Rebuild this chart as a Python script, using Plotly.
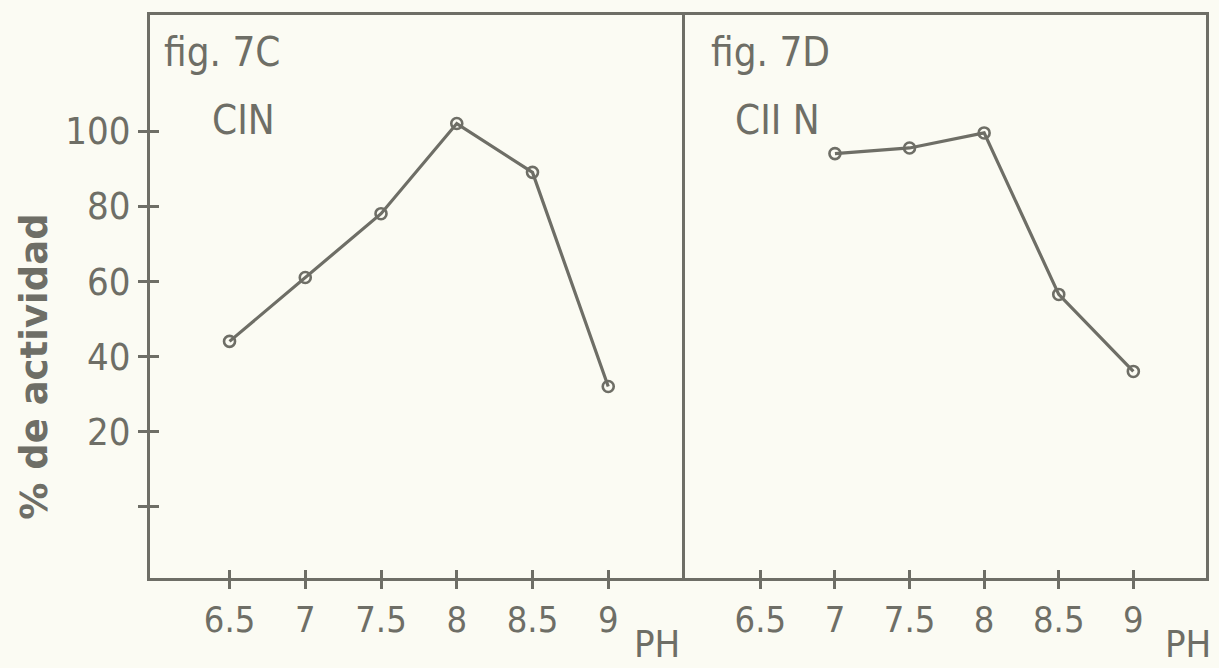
import plotly.graph_objects as go

# Data
ph_c = [6.5, 7, 7.5, 8, 8.5, 9]
act_c = [44, 61, 78, 102, 89, 32]
ph_d = [7, 7.5, 8, 8.5, 9]
act_d = [94, 95.5, 99.5, 56.5, 36]

x_tickvals = [6.5, 7, 7.5, 8, 8.5, 9]
x_ticktext = ["6.5", "7", "7.5", "8", "8.5", "9"]
y_tickvals = [0, 20, 40, 60, 80, 100]
y_ticktext = ["", "20", "40", "60", "80", "100"]

INK = "#6e6e66"
BG = "#fbfbf3"
FONT = "DejaVu Sans Condensed, DejaVu Sans"
XR = [5.975, 9.487]
YR = [-19, 130.9]
SPLIT = 0.5038

fig = go.Figure()
line_style = dict(color=INK, width=3.2)
marker_style = dict(symbol="circle-open", size=11, color=INK, line=dict(width=2.6, color=INK))

fig.add_trace(go.Scatter(x=ph_c, y=act_c, mode="lines+markers", line=line_style,
                         marker=marker_style, xaxis="x", yaxis="y", showlegend=False))
fig.add_trace(go.Scatter(x=ph_d, y=act_d, mode="lines+markers", line=line_style,
                         marker=marker_style, xaxis="x2", yaxis="y2", showlegend=False))
# invisible traces to activate overlay axes for inward tick halves
fig.add_trace(go.Scatter(x=ph_c, y=act_c, mode="none", xaxis="x3", yaxis="y3",
                         showlegend=False, hoverinfo="skip"))
fig.add_trace(go.Scatter(x=ph_d, y=act_d, mode="none", xaxis="x4", yaxis="y2",
                         showlegend=False, hoverinfo="skip"))

xtickfont = dict(family=FONT, size=36, color=INK)
ytickfont = dict(family=FONT, size=38, color=INK)
common_x = dict(range=XR, tickvals=x_tickvals, showgrid=False, zeroline=False)

fig.update_layout(
    width=1219, height=668,
    margin=dict(l=150, r=13, t=15, b=90),
    paper_bgcolor=BG, plot_bgcolor=BG,
    xaxis=dict(domain=[0, SPLIT], anchor="y", ticktext=x_ticktext, ticks="outside",
               ticklen=8, tickwidth=2.5, tickcolor=INK, showline=True, linecolor=INK,
               linewidth=3, mirror=True, tickfont=xtickfont, **common_x),
    xaxis2=dict(domain=[SPLIT, 1], anchor="y2", ticktext=x_ticktext, ticks="outside",
                ticklen=8, tickwidth=2.5, tickcolor=INK, showline=True, linecolor=INK,
                linewidth=3, mirror=True, tickfont=xtickfont, **common_x),
    xaxis3=dict(overlaying="x", anchor="y", side="bottom", ticks="inside", ticklen=8,
                tickwidth=2.5, tickcolor=INK, showticklabels=False, showline=False, **common_x),
    xaxis4=dict(overlaying="x2", anchor="y2", side="bottom", ticks="inside", ticklen=8,
                tickwidth=2.5, tickcolor=INK, showticklabels=False, showline=False, **common_x),
    yaxis=dict(domain=[0, 1], anchor="x", range=YR, tickvals=y_tickvals, ticktext=y_ticktext,
               ticks="outside", ticklen=9, tickwidth=2.5, tickcolor=INK, showline=True,
               linecolor=INK, linewidth=3, mirror=True, showgrid=False, zeroline=False,
               tickfont=ytickfont),
    yaxis2=dict(domain=[0, 1], anchor="x2", side="right", range=YR, showticklabels=False,
                ticks="", showline=True, linecolor=INK, linewidth=3, mirror=False,
                showgrid=False, zeroline=False),
    yaxis3=dict(overlaying="y", anchor="x", side="left", range=YR, tickvals=y_tickvals,
                ticks="inside", ticklen=9, tickwidth=2.5, tickcolor=INK, showticklabels=False,
                showline=False, showgrid=False, zeroline=False),
)

ann_font = dict(family=FONT, size=40, color=INK)
ph_font = dict(family=FONT, size=38, color=INK)
fig.add_annotation(text="% de actividad", textangle=-90, xref="paper", yref="paper",
                   x=-0.109, y=0.375, xanchor="center", yanchor="middle", showarrow=False,
                   font=dict(family="DejaVu Sans", size=37, color=INK, weight="bold"))
fig.add_annotation(text="fig. 7C", xref="paper", yref="paper", x=0.011, y=0.978,
                   xanchor="left", yanchor="top", showarrow=False, font=ann_font)
fig.add_annotation(text="CIN", xref="paper", yref="paper", x=0.057, y=0.858,
                   xanchor="left", yanchor="top", showarrow=False, font=ann_font)
fig.add_annotation(text="fig. 7D", xref="paper", yref="paper", x=0.529, y=0.978,
                   xanchor="left", yanchor="top", showarrow=False, font=ann_font)
fig.add_annotation(text="CII N", xref="paper", yref="paper", x=0.552, y=0.858,
                   xanchor="left", yanchor="top", showarrow=False, font=ann_font)
fig.add_annotation(text="PH", xref="paper", yref="paper", x=0.48, y=-0.118,
                   xanchor="center", yanchor="middle", showarrow=False, font=ph_font)
fig.add_annotation(text="PH", xref="paper", yref="paper", x=0.983, y=-0.118,
                   xanchor="center", yanchor="middle", showarrow=False, font=ph_font)

fig.write_html("out.html", post_script="document.body.style.margin='0';",
               config={"displayModeBar": False})
